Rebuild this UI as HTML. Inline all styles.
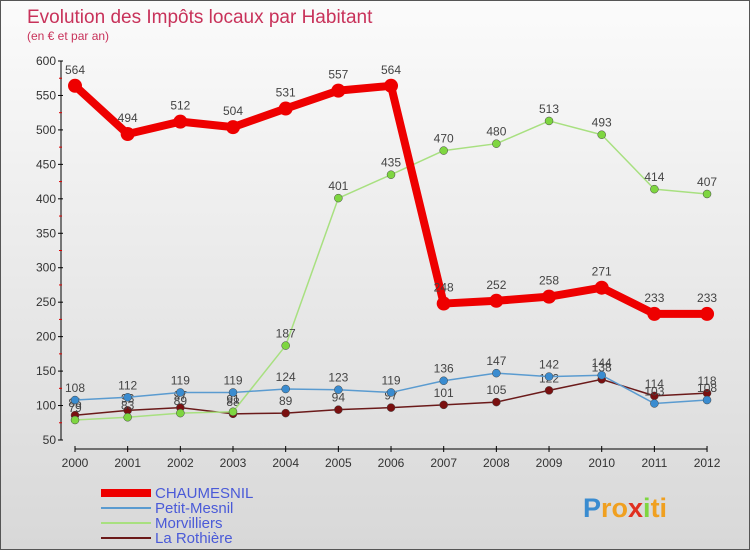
<!DOCTYPE html>
<html><head><meta charset="utf-8"><style>
body{margin:0;width:750px;height:550px;overflow:hidden;font-family:"Liberation Sans",sans-serif}
#wrap{position:relative;width:748px;height:548px;border:1px solid #555;background:linear-gradient(#fbfbfb,#d8d8d8)}
</style></head><body>
<div id="wrap">
<svg id="c" width="748" height="548"></svg>
</div>
<script>
const years=[2000,2001,2002,2003,2004,2005,2006,2007,2008,2009,2010,2011,2012];
const chaumesnil=[564,494,512,504,531,557,564,248,252,258,271,233,233];
const petitMesnil=[108,112,119,119,124,123,119,136,147,142,144,103,108];
const morvilliers=[79,83,89,91,187,401,435,470,480,513,493,414,407];
const rothiere=[86,93,97,88,89,94,97,101,105,122,138,114,118];
const yTicks=[50,100,150,200,250,300,350,400,450,500,550,600];
const seriesNames=["CHAUMESNIL","Petit-Mesnil","Morvilliers","La Rothière"];
const NS="http://www.w3.org/2000/svg";
const svg=document.getElementById('c');
const X=i=>74+i*52.67, Y=v=>60+(600-v)*379/550;
function el(t,a,txt){const e=document.createElementNS(NS,t);for(const k in a)e.setAttribute(k,a[k]);if(txt!==undefined)e.textContent=txt;svg.appendChild(e);return e;}
let t=el('text',{x:26,y:22,'font-size':19,fill:'#c8325a'},'Evolution des Impôts locaux par Habitant');


t=el('text',{x:26,y:39,'font-size':12,fill:'#c8325a'},'(en € et par an)');


let ax=el('line',{x1:60,y1:Y(600),x2:60,y2:Y(50),stroke:'#000'});


yTicks.forEach(v=>{
 el('line',{x1:57,y1:Y(v),x2:62,y2:Y(v),stroke:'#000'});
 if(v<600) el('line',{x1:58,y1:Y(v+25),x2:61,y2:Y(v+25),stroke:'#d00'});
 const l=el('text',{x:55,y:Y(v)+4,'font-size':12,fill:'#333','text-anchor':'end'},v);
 
 
});
ax=el('line',{x1:X(0),y1:448,x2:X(12),y2:448,stroke:'#000'});


years.forEach((y,i)=>{
 el('line',{x1:X(i),y1:445,x2:X(i),y2:451,stroke:'#000'});
 const l=el('text',{x:X(i),y:466,'font-size':12,fill:'#333','text-anchor':'middle'},y);
 
 
});
const specs=[[rothiere,'#6b1a1a','#7a1010',1.5,4],[morvilliers,'#a8e080','#7ed640',1.5,4],[petitMesnil,'#5a9bd0','#3a8cd0',1.5,4],[chaumesnil,'#ee0000','#ee0000',8,7]];
const names=['la-rothiere','morvilliers','petit-mesnil','chaumesnil'];
specs.forEach(([d,lc,pc,w,r],s)=>{
 const p=el('polyline',{points:d.map((v,i)=>X(i)+','+Y(v)).join(' '),fill:'none',stroke:lc,'stroke-width':w,'stroke-linejoin':'round'});
 
 
 d.forEach((v,i)=>{
  const c=el('circle',{cx:X(i),cy:Y(v),r:r,fill:pc,stroke:s==3?'none':'#444','stroke-width':0.5});
  
  
  const l=el('text',{x:X(i),y:Y(v)-(s==3?12:8),'font-size':12,fill:'#444','text-anchor':'middle'},v);
  
  
 });
});
const lc=['#ee0000','#5a9bd0','#a8e080','#6b1a1a'],lw=[8,2,2,2];
seriesNames.forEach((n,i)=>{
 const y=492+i*15;
 const ln=el('line',{x1:100,y1:y,x2:150,y2:y,stroke:lc[i],'stroke-width':lw[i]});
 
 
 const l=el('text',{x:154,y:y+5,'font-size':15,fill:'#4a5ad8'},n);
 
 
});
const logo=el('text',{x:582,y:516,'font-size':27,'font-weight':'bold',fill:'#f0a020'});


[['P','#3a8cd0'],['ro','#f0a020'],['x','#e03020'],['i','#7ed640'],['ti','#f0a020']].forEach(([s,c])=>{
 const ts=document.createElementNS(NS,'tspan');ts.setAttribute('fill',c);ts.textContent=s;logo.appendChild(ts);
});
</script>
</body></html>
